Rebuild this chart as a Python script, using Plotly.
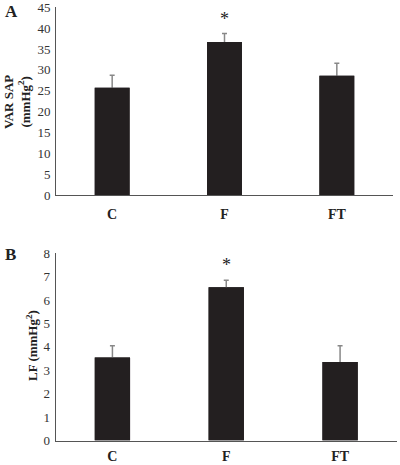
import plotly.graph_objects as go

categories = ["C", "F", "FT"]
var_sap = [25.7, 36.7, 28.6]
var_sap_err = [3.0, 2.0, 3.0]
lf = [3.55, 6.55, 3.35]
lf_err = [0.5, 0.3, 0.7]
y_ticks_a = [0, 5, 10, 15, 20, 25, 30, 35, 40, 45]
y_ticks_b = [0, 1, 2, 3, 4, 5, 6, 7, 8]

BAR = "#231f20"
AX = "#555555"
ERR = "#888888"
FONT = "Liberation Serif, Times New Roman, serif"

W, H = 400, 465

fig = go.Figure()

def add_panel(vals, errs, xa, ya):
    fig.add_trace(go.Bar(x=categories, y=vals, marker=dict(color=BAR, line=dict(width=0)),
                         error_y=dict(type="data", array=errs, symmetric=True, color=ERR,
                                      thickness=1.5, width=2.5),
                         xaxis=xa, yaxis=ya, showlegend=False, hoverinfo="skip"))
    fig.add_trace(go.Bar(x=categories, y=vals, marker=dict(color=BAR, line=dict(width=0)),
                         xaxis=xa, yaxis=ya, showlegend=False, hoverinfo="skip"))

add_panel(var_sap, var_sap_err, "x", "y")
add_panel(lf, lf_err, "x2", "y2")

axis_common = dict(showline=True, linecolor=AX, linewidth=1, showgrid=False, zeroline=False,
                   ticks="", fixedrange=True, automargin=False, ticklabeloverflow="allow")
xfont = dict(family=FONT, size=14, color="#222222", weight="bold")
yfont = dict(family=FONT, size=13, color="#333333")

fig.update_layout(
    width=W, height=H,
    margin=dict(l=0, r=0, t=0, b=0, autoexpand=False),
    paper_bgcolor="white", plot_bgcolor="white",
    barmode="overlay", bargap=0.69,
    xaxis=dict(domain=[56/W, 393/W], anchor="y", tickfont=xfont, ticklabelstandoff=6, **axis_common),
    yaxis=dict(domain=[1-195/H, 1-7.3/H], anchor="x", range=[0, 45.001], tickvals=y_ticks_a,
               tickfont=yfont, ticklabelstandoff=2, **axis_common),
    xaxis2=dict(domain=[55.5/W, 397/W], anchor="y2", tickfont=xfont, ticklabelstandoff=3, **axis_common),
    yaxis2=dict(domain=[1-440.5/H, 1-253.3/H], anchor="x2", range=[0, 8.001], tickvals=y_ticks_b,
                tickfont=yfont, ticklabelstandoff=2, **axis_common),
)

ann_font = dict(family=FONT, color="#222222")

def px_ann(px, py, text, size, angle=0):
    fig.add_annotation(x=px / W, y=1 - py / H, xref="paper", yref="paper", text=text,
                       xanchor="center", yanchor="middle",
                       textangle=angle, showarrow=False, font=dict(size=size, **ann_font))

px_ann(17, 102, "<b>VAR SAP<br>(mmHg<sup>2</sup>)</b>", 13, -90)
px_ann(32, 346, "<b>LF (mmHg<sup>2</sup>)</b>", 13, -90)
px_ann(11, 12, "<b>A</b>", 17)
px_ann(10, 254, "<b>B</b>", 17)

fig.add_annotation(x="F", y=42.3, xref="x", yref="y", text="*", showarrow=False,
                   font=dict(size=18, **ann_font))
fig.add_annotation(x="F", y=7.5, xref="x2", yref="y2", text="*", showarrow=False,
                   font=dict(size=18, **ann_font))

fig.write_html("out.html", config={"displayModeBar": False, "staticPlot": True},
               post_script="document.body.style.margin='0';document.body.style.overflow='hidden';")
